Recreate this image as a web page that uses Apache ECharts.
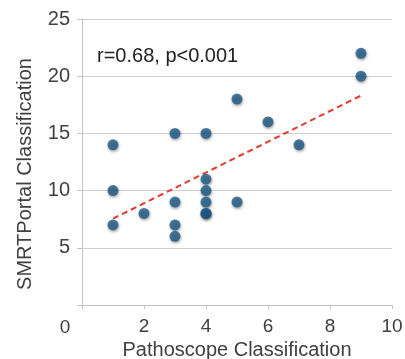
<!DOCTYPE html>
<html><head><meta charset="utf-8">
<script src="https://cdn.jsdelivr.net/npm/echarts@6/dist/echarts.min.js"></script>
<style>html,body{margin:0;padding:0;background:#fff}#c{width:405px;height:359px}</style>
</head><body><div id="c"></div>
<script>
var pathoscope = [1,1,1,2,3,3,3,3,4,4,4,4,4,4,5,5,6,7,9,9];
var smrtportal = [14,10,7,8,15,9,7,6,15,11,10,9,8,8,18,9,16,14,22,20];
var trendX = [1,9];
var trendY = [7.55,18.3];
var xTicks = [0,2,4,6,8,10];
var yTicks = [0,5,10,15,20,25];
var annotation = 'r=0.68, p<0.001';
var xTitle = 'Pathoscope Classification';
var yTitle = 'SMRTPortal Classification';

var pts = pathoscope.map(function(x,i){return [x, smrtportal[i]];});
var line = trendX.map(function(x,i){return [x, trendY[i]];});
var font = 'Liberation Sans, Arial, sans-serif';
var chart = echarts.init(document.getElementById('c'), null, {renderer:'canvas'});
chart.setOption({
  animation:false,
  grid:{left:82,right:13,top:19,bottom:54,containLabel:false,outerBoundsMode:'none'},
  xAxis:{type:'value',min:xTicks[0],max:xTicks[xTicks.length-1],interval:2,
    name:xTitle,nameLocation:'middle',nameGap:33,
    nameTextStyle:{fontSize:20,color:'#404040',fontFamily:font},
    axisLine:{lineStyle:{color:'#c4c4c4',width:1}},
    axisTick:{show:true,length:4,lineStyle:{color:'#c4c4c4'}},
    axisLabel:{fontSize:19,color:'#404040',fontFamily:font,margin:12,
      formatter:function(v){return v===0?'':String(v);}},
    splitLine:{show:false}},
  yAxis:{type:'value',min:yTicks[0],max:yTicks[yTicks.length-1],interval:5,
    axisLine:{show:true,lineStyle:{color:'#c4c4c4',width:1}},
    axisTick:{show:true,length:5,lineStyle:{color:'#c4c4c4'}},
    axisLabel:{fontSize:20,color:'#404040',fontFamily:font,margin:12,
      formatter:function(v){return v===0?'':String(v);}},
    splitLine:{show:true,lineStyle:{color:'#d0d0d0',width:1}}},
  graphic:[
    {type:'text',x:65,y:328,style:{text:'0',fontSize:19,fill:'#404040',fontFamily:font,align:'center',verticalAlign:'middle'}},
    {type:'text',x:97,y:56,style:{text:annotation,fontSize:20,fill:'#222',fontFamily:font,align:'left',verticalAlign:'middle'}},
    {type:'text',x:25,y:174,rotation:Math.PI/2,style:{text:yTitle,fontSize:20,fill:'#404040',fontFamily:font,align:'center',verticalAlign:'middle'}}
  ],
  series:[
    {type:'line',data:line,symbol:'none',z:3,
      lineStyle:{color:'#e8372c',width:2,type:[6,4]}},
    {type:'scatter',data:pts,symbolSize:11,z:4,
      itemStyle:{color:'#1d5a86',shadowBlur:3,shadowColor:'rgba(0,0,0,0.45)',shadowOffsetX:0.5,shadowOffsetY:1.5}}
  ]
});
</script></body></html>
